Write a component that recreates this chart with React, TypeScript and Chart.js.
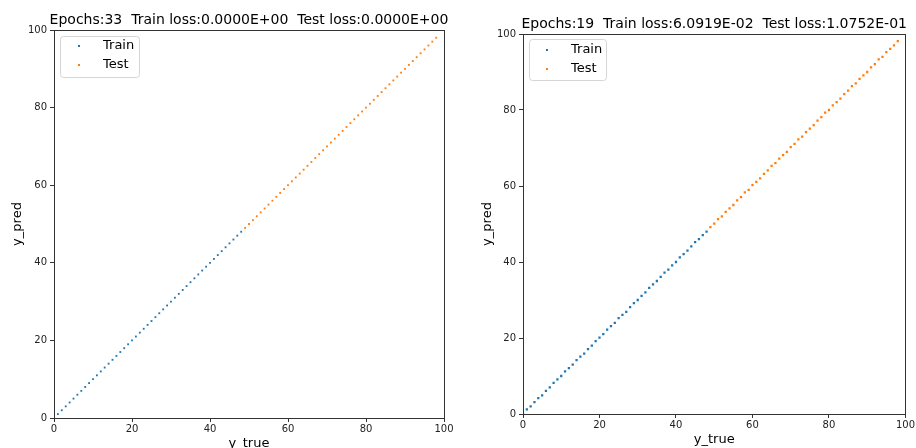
import React, { useEffect, useRef } from "react";
import { Chart, registerables } from "chart.js";

Chart.register(...registerables);

// ---- Data ----
const leftTrainX = [0,1,2,3,4,5,6,7,8,9,10,11,12,13,14,15,16,17,18,19,20,21,22,23,24,25,26,27,28,29,30,31,32,33,34,35,36,37,38,39,40,41,42,43,44,45,46,47,48];
const leftTrainY = [0,1,2,3,4,5,6,7,8,9,10,11,12,13,14,15,16,17,18,19,20,21,22,23,24,25,26,27,28,29,30,31,32,33,34,35,36,37,38,39,40,41,42,43,44,45,46,47,48];
const leftTestX = [49,50,51,52,53,54,55,56,57,58,59,60,61,62,63,64,65,66,67,68,69,70,71,72,73,74,75,76,77,78,79,80,81,82,83,84,85,86,87,88,89,90,91,92,93,94,95,96,97,98];
const leftTestY = [49,50,51,52,53,54,55,56,57,58,59,60,61,62,63,64,65,66,67,68,69,70,71,72,73,74,75,76,77,78,79,80,81,82,83,84,85,86,87,88,89,90,91,92,93,94,95,96,97,98];

const rightTrainX = [0,1,2,3,4,5,6,7,8,9,10,11,12,13,14,15,16,17,18,19,20,21,22,23,24,25,26,27,28,29,30,31,32,33,34,35,36,37,38,39,40,41,42,43,44,45,46,47,48];
const rightTrainY = [0.1,1.2,2.0,3.1,4.2,4.9,6.1,7.0,8.2,9.1,10.0,11.2,12.1,13.0,14.2,15.1,15.9,17.1,18.0,19.2,20.1,21.0,22.2,23.1,24.0,25.2,26.1,26.9,28.1,29.2,30.0,31.1,32.0,33.2,34.1,35.0,36.1,37.2,38.0,39.1,40.0,41.2,42.1,43.0,44.1,45.2,46.0,47.1,48.0];
const rightTestX = [49,50,51,52,53,54,55,56,57,58,59,60,61,62,63,64,65,66,67,68,69,70,71,72,73,74,75,76,77,78,79,80,81,82,83,84,85,86,87,88,89,90,91,92,93,94,95,96,97,98];
const rightTestY = [49.2,50.1,51.3,52.0,53.2,54.1,55.0,56.2,57.1,58.3,59.0,60.2,61.1,62.0,63.2,64.1,65.3,66.0,67.2,68.1,69.0,70.2,71.1,72.3,73.0,74.2,75.1,76.0,77.2,78.1,79.3,80.0,81.2,82.1,83.0,84.2,85.1,86.3,87.0,88.2,89.1,90.0,91.2,92.1,93.3,94.0,95.2,96.1,97.0,98.1];

const leftTitle = "Epochs:33  Train loss:0.0000E+00  Test loss:0.0000E+00";
const rightTitle = "Epochs:19  Train loss:6.0919E-02  Test loss:1.0752E-01";
const seriesNames = ["Train", "Test"];
const xLabel = "y_true";
const yLabel = "y_pred";

const BLUE = "#1f77b4";
const ORANGE = "#ff7f0e";
const FONT = "'DejaVu Sans', sans-serif";

type Layout = {
  yAxisW: number; xAxisH: number; top: number; right: number;
  titleGap: number; xLabelGap: number; yLabelX: number;
  legend: { x: number; y: number; w: number; h: number; mx: number; tx: number; r1: number; r2: number };
  radius: number;
};

function toPts(xs: number[], ys: number[]) {
  return xs.map((x, i) => ({ x, y: ys[i] }));
}

function makeChart(canvas: HTMLCanvasElement, title: string, trX: number[], trY: number[], teX: number[], teY: number[], L: Layout) {
  const deco = {
    id: "deco",
    afterDraw(chart: any) {
      const ctx = chart.ctx as CanvasRenderingContext2D;
      const a = chart.chartArea;
      ctx.save();
      // frame
      ctx.strokeStyle = "#333";
      ctx.lineWidth = 1;
      ctx.strokeRect(Math.round(a.left) + 0.5, Math.round(a.top) + 0.5, Math.round(a.right - a.left), Math.round(a.bottom - a.top));
      // title
      ctx.fillStyle = "#000";
      ctx.font = `14px ${FONT}`;
      ctx.textAlign = "center";
      ctx.textBaseline = "alphabetic";
      ctx.fillText(title, (a.left + a.right) / 2, a.top - L.titleGap);
      // x label
      ctx.font = `13px ${FONT}`;
      ctx.fillText(xLabel, (a.left + a.right) / 2, a.bottom + L.xLabelGap);
      // y label
      ctx.save();
      ctx.translate(L.yLabelX, (a.top + a.bottom) / 2);
      ctx.rotate(-Math.PI / 2);
      ctx.textBaseline = "middle";
      ctx.fillText(yLabel, 0, 0);
      ctx.restore();
      // legend
      const lg = L.legend;
      ctx.beginPath();
      const r = 3;
      ctx.moveTo(lg.x + r, lg.y);
      ctx.arcTo(lg.x + lg.w, lg.y, lg.x + lg.w, lg.y + lg.h, r);
      ctx.arcTo(lg.x + lg.w, lg.y + lg.h, lg.x, lg.y + lg.h, r);
      ctx.arcTo(lg.x, lg.y + lg.h, lg.x, lg.y, r);
      ctx.arcTo(lg.x, lg.y, lg.x + lg.w, lg.y, r);
      ctx.closePath();
      ctx.fillStyle = "rgba(255,255,255,0.8)";
      ctx.fill();
      ctx.strokeStyle = "#d5d5d5";
      ctx.stroke();
      const rows = [lg.r1, lg.r2];
      const cols = [BLUE, ORANGE];
      ctx.font = `13px ${FONT}`;
      ctx.textAlign = "left";
      ctx.textBaseline = "middle";
      rows.forEach((yy, i) => {
        ctx.fillStyle = cols[i];
        ctx.fillRect(lg.mx - 1, yy - 1, 2, 2);
        ctx.fillStyle = "#000";
        ctx.fillText(seriesNames[i], lg.tx, yy);
      });
      ctx.restore();
    },
  };

  const axisCommon = {
    type: "linear" as const,
    min: 0,
    max: 100,
    ticks: { stepSize: 20, color: "#222", font: { family: FONT, size: 10 } },
    grid: { drawOnChartArea: false, drawTicks: true, tickLength: 4, color: "#333" },
    border: { display: true, color: "#333" },
  };

  return new Chart(canvas, {
    type: "scatter",
    data: {
      datasets: [
        { label: seriesNames[0], data: toPts(trX, trY), backgroundColor: BLUE, borderColor: BLUE, pointStyle: "rect", pointRadius: L.radius, borderWidth: 0 },
        { label: seriesNames[1], data: toPts(teX, teY), backgroundColor: ORANGE, borderColor: ORANGE, pointStyle: "rect", pointRadius: L.radius, borderWidth: 0 },
      ],
    },
    options: {
      animation: false,
      responsive: false,
      maintainAspectRatio: false,
      layout: { padding: { left: 0, right: L.right, top: L.top, bottom: 0 } },
      plugins: { legend: { display: false }, tooltip: { enabled: false }, title: { display: false } },
      scales: {
        x: {
          ...axisCommon,
          ticks: { ...axisCommon.ticks, padding: 1 },
          afterFit: (s: any) => { s.height = L.xAxisH; },
        },
        y: {
          ...axisCommon,
          ticks: { ...axisCommon.ticks, padding: 3 },
          afterFit: (s: any) => { s.width = L.yAxisW; },
        },
      },
    },
    plugins: [deco],
  } as any);
}

export default function App() {
  const leftRef = useRef<HTMLCanvasElement>(null);
  const rightRef = useRef<HTMLCanvasElement>(null);

  useEffect(() => {
    const c1 = makeChart(leftRef.current!, leftTitle, leftTrainX, leftTrainY, leftTestX, leftTestY, {
      yAxisW: 54, xAxisH: 30, top: 30, right: 14, titleGap: 6, xLabelGap: 29, yLabelX: 18,
      legend: { x: 60.5, y: 36.5, w: 79, h: 41, mx: 79, tx: 103, r1: 46, r2: 65 },
      radius: 1.3,
    });
    const c2 = makeChart(rightRef.current!, rightTitle, rightTrainX, rightTrainY, rightTestX, rightTestY, {
      yAxisW: 65, xAxisH: 34, top: 34, right: 9, titleGap: 6, xLabelGap: 29, yLabelX: 30,
      legend: { x: 71.5, y: 39.5, w: 77, h: 41, mx: 89, tx: 113, r1: 50, r2: 69 },
      radius: 1.6,
    });
    return () => { c1.destroy(); c2.destroy(); };
  }, []);

  return (
    <div style={{ position: "fixed", left: 0, top: 0, width: 916, height: 448, background: "#fff" }}>
      <canvas ref={leftRef} width={458} height={448} style={{ position: "absolute", left: 0, top: 0, width: 458, height: 448 }} />
      <canvas ref={rightRef} width={458} height={448} style={{ position: "absolute", left: 458, top: 0, width: 458, height: 448 }} />
    </div>
  );
}
